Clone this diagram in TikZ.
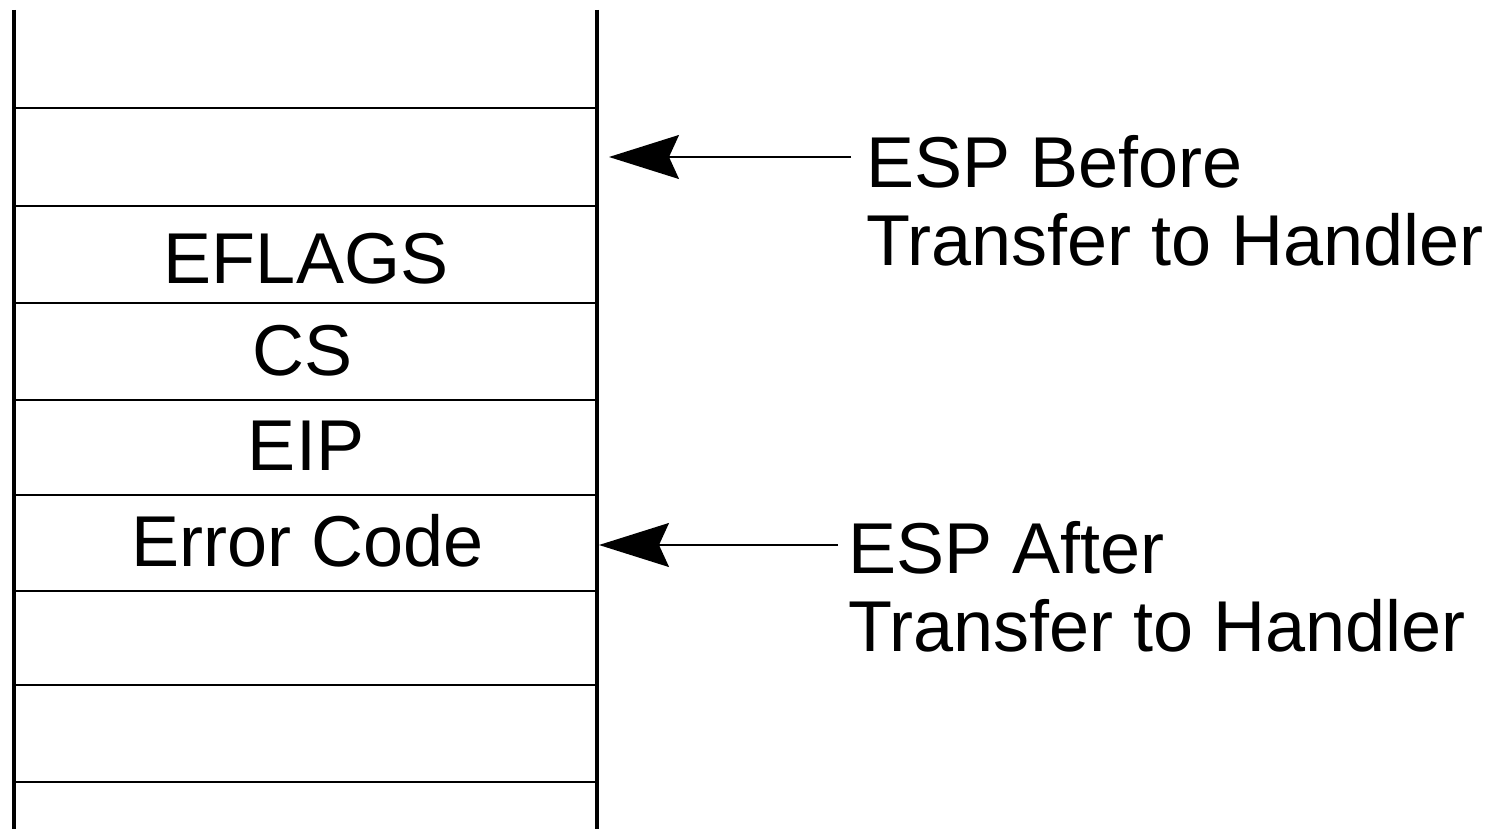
\documentclass[tikz,border=0pt]{standalone}
\usepackage{fontspec}
\setmainfont{Liberation Sans}
\usetikzlibrary{arrows.meta}
\begin{document}
\begin{tikzpicture}[x=1pt,y=-1pt,
  wall/.style={line width=4pt},
  sep/.style={line width=1.6pt},
  cell/.style={inner sep=0pt, anchor=base, font=\fontsize{72}{80}\selectfont},
  lbl/.style={inner sep=0pt, anchor=north west, align=left, font=\fontsize{72}{78}\selectfont},
  ptr/.style={line width=1.6pt, -{Stealth[length=70pt,width=44pt,inset=10pt]}}
]
\useasboundingbox (0,0) rectangle (1502,829);
% stack walls
\draw[wall] (14,10) -- (14,829);
\draw[wall] (597,10) -- (597,829);
% separators
\foreach \y in {108,206,303,400,495,591,685,782}
  \draw[sep] (14,\y) -- (597,\y);
% cells
\node[cell] (eflags) at (306,283) {EFLAGS};
\node[cell] (cs) at (303,375) {CS};
\node[cell] (eip) at (306,470) {EIP};
\node[cell] (err) at (308,566) {Error Code};
% labels
\node[lbl] (before) at (866,135) {ESP Before\\Transfer to Handler};
\node[lbl] (after) at (848,521) {ESP After\\Transfer to Handler};
\coordinate (pb) at (609,157);
\coordinate (pa) at (599,545);
\draw[ptr] (851,157) -- (pb);
\draw[ptr] (838,545) -- (pa);
\end{tikzpicture}
\end{document}
